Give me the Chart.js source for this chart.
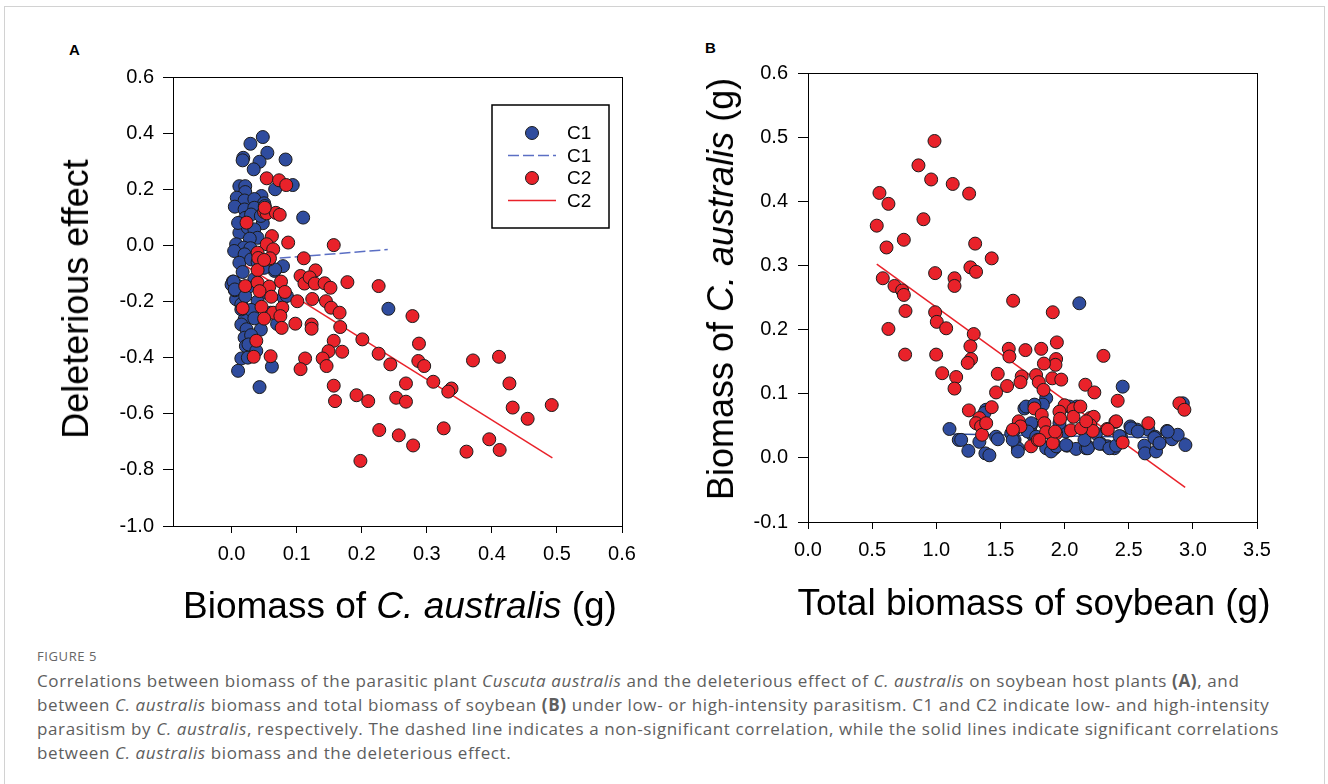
<!DOCTYPE html>
<html>
<head>
<meta charset="utf-8">
<script src="https://cdn.jsdelivr.net/npm/chart.js@4.4.1/dist/chart.umd.min.js"></script>
<style>
body{margin:0;background:#fff;width:1328px;height:784px;overflow:hidden;position:relative;font-family:"Liberation Sans",Arial,sans-serif;}
.frame{position:absolute;left:4px;top:6px;width:1319px;height:820px;border:1px solid #d2d2d2;}
canvas{position:absolute;top:0;}
#chartA{left:0;}
#chartB{left:664px;}
.lbl{position:absolute;font-weight:bold;font-size:15px;line-height:1;}
.title{position:absolute;font-size:37px;white-space:nowrap;line-height:1;color:#000;transform:translate(-50%,-50%);}
.title.rot{font-size:36px;transform:translate(-50%,-50%) rotate(-90deg);}
.fig{position:absolute;left:37px;top:648px;font-family:"Open Sans",sans-serif;font-size:13px;line-height:16px;color:#666;letter-spacing:0.6px;}
.cap{position:absolute;left:37px;top:669px;font-family:"Open Sans",sans-serif;font-size:17px;line-height:24px;color:#5e5e5e;white-space:nowrap;letter-spacing:0.62px;}
</style>
</head>
<body>
<div class="frame"></div>
<div class="lbl" style="left:69px;top:42px;">A</div>
<div class="lbl" style="left:705px;top:40px;">B</div>
<canvas id="chartA" width="664" height="600"></canvas>
<canvas id="chartB" width="664" height="600"></canvas>
<div class="title rot" style="left:76px;top:299px;">Deleterious effect</div>
<div class="title" style="left:400px;top:605px;">Biomass of <i>C. australis</i> (g)</div>
<div class="title rot" style="left:721px;top:289px;">Biomass of <i>C. australis</i> (g)</div>
<div class="title" style="left:1034px;top:602px;">Total biomass of soybean (g)</div>
<div class="fig">FIGURE 5</div>
<div class="cap">Correlations between biomass of the parasitic plant <i>Cuscuta australis</i> and the deleterious effect of <i>C. australis</i> on soybean host plants <b>(A)</b>, and<br>between <i>C. australis</i> biomass and total biomass of soybean <b>(B)</b> under low- or high-intensity parasitism. C1 and C2 indicate low- and high-intensity<br>parasitism by <i>C. australis</i>, respectively. The dashed line indicates a non-significant correlation, while the solid lines indicate significant correlations<br>between <i>C. australis</i> biomass and the deleterious effect.</div>
<script>
// ---- panel A: biomass of C. australis vs deleterious effect ----
const xTicksA = [0, 0.1, 0.2, 0.3, 0.4, 0.5, 0.6];
const yTicksA = [-1.0, -0.8, -0.6, -0.4, -0.2, 0, 0.2, 0.4, 0.6];

const c1A = [
  [0.048,0.386],[0.029,0.362],[0.018,0.312],[0.017,0.303],[0.055,0.330],[0.043,0.298],[0.083,0.306],
  [0.034,0.271],[0.094,0.215],[0.067,0.200],[0.012,0.211],[0.021,0.211],[0.021,0.190],[0.046,0.176],
  [0.008,0.170],[0.020,0.160],[0.035,0.165],[0.050,0.150],[0.005,0.138],[0.020,0.128],[0.035,0.134],
  [0.051,0.140],[0.110,0.099],[0.021,0.098],[0.048,0.079],[0.012,0.045],[0.025,0.063],[0.035,0.057],
  [0.040,0.027],[0.007,0.004],[0.028,0.024],[0.019,-0.008],[0.029,-0.010],[0.010,0.080],[0.030,0.110],
  [0.045,0.105],[0.004,-0.020],[0.020,-0.032],[0.012,-0.062],[0.017,-0.095],[0.002,-0.129],[0.010,-0.145],
  [0.012,-0.169],[0.007,-0.192],[0.015,-0.210],[0.020,-0.264],[0.015,-0.282],[0.023,-0.299],[0.020,-0.329],
  [0.022,-0.359],[0.034,-0.371],[0.066,-0.091],[0.079,-0.074],[0.080,-0.186],[0.241,-0.226],[0.015,-0.403],
  [0.010,-0.447],[0.062,-0.432],[0.043,-0.505],[0.030,-0.050],[0.035,-0.120],[0.025,-0.150],[0.040,-0.200],
  [0.030,-0.230],[0.005,-0.160],[0.000,-0.140],[0.045,-0.300],[0.030,-0.320],[0.035,-0.260],[0.050,-0.080],
  [0.055,-0.170],[0.060,-0.240],[0.070,-0.280],[0.025,-0.400],[0.040,-0.060],[0.003,-0.129],[0.005,-0.157],
  [0.021,-0.181],[0.015,-0.228],[0.026,-0.353],[0.038,-0.376],[0.085,-0.180],[0.067,-0.086]
];
const c2A = [
  [0.054,0.239],[0.073,0.232],[0.084,0.215],[0.050,0.119],[0.054,0.114],[0.068,0.116],[0.074,0.109],
  [0.051,0.134],[0.023,0.081],[0.062,0.033],[0.087,0.010],[0.157,0.001],[0.054,0.004],[0.064,-0.014],
  [0.040,-0.026],[0.041,-0.045],[0.058,-0.050],[0.111,-0.046],[0.040,-0.088],[0.129,-0.089],[0.106,-0.109],
  [0.112,-0.136],[0.120,-0.114],[0.128,-0.136],[0.143,-0.135],[0.152,-0.151],[0.178,-0.131],[0.226,-0.145],
  [0.021,-0.145],[0.040,-0.133],[0.058,-0.147],[0.076,-0.129],[0.043,-0.163],[0.061,-0.183],[0.082,-0.166],
  [0.101,-0.199],[0.124,-0.191],[0.145,-0.199],[0.153,-0.222],[0.166,-0.240],[0.046,-0.219],[0.064,-0.240],
  [0.078,-0.222],[0.075,-0.252],[0.017,-0.224],[0.050,-0.261],[0.077,-0.294],[0.098,-0.279],[0.123,-0.282],
  [0.123,-0.297],[0.167,-0.291],[0.038,-0.340],[0.157,-0.340],[0.149,-0.377],[0.170,-0.379],[0.034,-0.397],
  [0.060,-0.395],[0.113,-0.403],[0.140,-0.403],[0.106,-0.441],[0.146,-0.430],[0.157,-0.500],[0.278,-0.252],
  [0.201,-0.335],[0.288,-0.350],[0.226,-0.386],[0.244,-0.424],[0.287,-0.412],[0.296,-0.430],[0.371,-0.410],
  [0.411,-0.397],[0.268,-0.492],[0.310,-0.486],[0.338,-0.510],[0.333,-0.521],[0.427,-0.492],[0.159,-0.555],
  [0.192,-0.534],[0.210,-0.555],[0.253,-0.543],[0.268,-0.557],[0.432,-0.578],[0.455,-0.618],[0.492,-0.569],
  [0.227,-0.658],[0.257,-0.677],[0.279,-0.713],[0.326,-0.652],[0.396,-0.691],[0.412,-0.729],[0.361,-0.735],
  [0.198,-0.768],[0.059,-0.046],[0.050,-0.052]
];
// regression lines (end points)
const fitC1A = [[0.005,-0.058],[0.240,-0.015]];
const fitC2A = [[0.016,-0.065],[0.493,-0.757]];

// ---- panel B: total biomass of soybean vs biomass of C. australis ----
const xTicksB = [0, 0.5, 1.0, 1.5, 2.0, 2.5, 3.0, 3.5];
const yTicksB = [-0.1, 0, 0.1, 0.2, 0.3, 0.4, 0.5, 0.6];

const c1B = [
  [2.115,0.241],[2.453,0.111],[1.103,0.045],[1.175,0.028],[1.250,0.011],[1.383,0.007],[1.414,0.004],
  [1.336,0.025],[1.388,0.075],[1.466,0.033],[1.480,0.029],[1.584,0.038],[1.610,0.028],[1.636,0.015],
  [1.636,0.010],[1.687,0.077],[1.739,0.051],[1.751,0.036],[1.857,0.093],[1.831,0.083],[1.857,0.015],
  [1.922,0.015],[2.019,0.019],[2.090,0.014],[2.095,0.080],[2.185,0.017],[2.284,0.022],[2.336,0.018],
  [2.388,0.015],[2.440,0.033],[2.513,0.049],[2.565,0.044],[2.653,0.044],[2.622,0.019],[2.627,0.007],
  [2.705,0.033],[2.713,0.010],[2.739,0.023],[2.799,0.042],[2.838,0.029],[2.882,0.036],[2.942,0.020],
  [2.922,0.085],[2.245,0.038],[1.194,0.028],[1.376,0.070],[1.609,0.044],[1.596,0.028],[1.700,0.080],
  [1.765,0.083],[1.740,0.054],[1.713,0.041],[1.779,0.033],[1.895,0.010],[1.935,0.018],[2.012,0.020],
  [2.168,0.015],[2.038,0.080],[2.010,0.041],[1.960,0.054],[2.519,0.046],[2.571,0.041],[2.700,0.031],
  [2.740,0.023],[2.804,0.041],[2.181,0.015],[2.272,0.022],[2.350,0.015],[2.402,0.019],[2.428,0.034],
  [2.155,0.028]
];
const c2B = [
  [0.986,0.494],[0.861,0.456],[0.960,0.434],[1.128,0.427],[1.256,0.412],[0.557,0.413],[0.627,0.396],
  [0.536,0.362],[0.900,0.372],[0.612,0.328],[0.747,0.340],[1.303,0.334],[1.432,0.311],[0.991,0.288],
  [1.266,0.297],[1.310,0.290],[1.142,0.280],[1.142,0.268],[0.583,0.280],[0.674,0.268],[0.734,0.261],
  [0.747,0.254],[0.760,0.229],[0.991,0.227],[1.004,0.212],[1.077,0.202],[0.627,0.201],[1.292,0.193],
  [1.599,0.245],[1.908,0.227],[0.757,0.161],[0.999,0.161],[1.266,0.174],[1.271,0.154],[1.245,0.148],
  [1.565,0.170],[1.570,0.158],[1.695,0.168],[1.818,0.170],[1.940,0.180],[1.934,0.154],[1.929,0.145],
  [1.839,0.147],[2.303,0.159],[1.046,0.132],[1.155,0.126],[1.142,0.108],[1.479,0.131],[1.552,0.112],
  [1.466,0.102],[1.666,0.127],[1.656,0.118],[1.778,0.129],[1.799,0.118],[1.836,0.106],[1.904,0.124],
  [1.974,0.122],[2.162,0.114],[2.232,0.102],[2.414,0.089],[2.895,0.085],[2.934,0.075],[1.254,0.074],
  [1.432,0.079],[1.336,0.062],[1.310,0.054],[1.349,0.049],[1.357,0.036],[1.765,0.077],[1.822,0.067],
  [1.843,0.054],[1.643,0.057],[1.656,0.049],[1.597,0.044],[2.000,0.082],[1.960,0.072],[1.965,0.061],
  [1.935,0.038],[2.069,0.076],[2.069,0.064],[2.123,0.080],[2.050,0.043],[2.200,0.062],[2.227,0.064],
  [2.201,0.051],[2.220,0.042],[2.396,0.056],[2.331,0.045],[2.653,0.054],[2.453,0.024],[1.739,0.018],
  [1.908,0.023],[1.856,0.040],[1.926,0.041],[1.791,0.028],[1.804,0.028],[1.389,0.054],[2.402,0.057],
  [2.337,0.044],[2.129,0.046],[2.168,0.057]
];
const fitC1B = [[1.10,0.037],[2.95,0.031]];
const fitC2B = [[0.536,0.302],[2.940,-0.046]];

const BLUE = "#2f4c9e";
const RED = "#e9222a";
const EDGE = "#1b1b1b";

function pts(arr){
    return arr.map(p => ({x: p[0], y: p[1]}));
}

// ================= FRAME AROUND PLOT AREA =================
const frameBox = {
    id: "frameBox",
    afterDraw(chart){
        const a = chart.chartArea;
        const ctx = chart.ctx;
        ctx.save();
        ctx.strokeStyle = "#000";
        ctx.lineWidth = 1;
        ctx.strokeRect(Math.round(a.left) + 0.5, Math.round(a.top) + 0.5,
            Math.round(a.right - a.left), Math.round(a.bottom - a.top));
        ctx.restore();
    }
};

// ================= LEGEND WITH BORDER =================
const boxLegend = {
    id: "boxLegend",
    afterDraw(chart, args, opts){
        if (!opts.show) return;
        const ctx = chart.ctx;
        ctx.save();
        ctx.strokeStyle = "#000";
        ctx.lineWidth = 1.5;
        ctx.strokeRect(opts.x, opts.y, opts.w, opts.h);
        ctx.font = "19px 'Liberation Sans', Arial, sans-serif";
        ctx.textBaseline = "middle";
        chart.data.datasets.forEach((ds, i) => {
            const cy = opts.y + opts.first + i * opts.step;
            if (ds.showLine) {
                ctx.beginPath();
                ctx.setLineDash(ds.borderDash || []);
                ctx.strokeStyle = ds.borderColor;
                ctx.lineWidth = ds.borderWidth;
                ctx.moveTo(opts.x + 16, cy);
                ctx.lineTo(opts.x + 64, cy);
                ctx.stroke();
                ctx.setLineDash([]);
            } else {
                ctx.beginPath();
                ctx.arc(opts.x + 40, cy, ds.pointRadius, 0, Math.PI * 2);
                ctx.fillStyle = ds.backgroundColor;
                ctx.fill();
                ctx.lineWidth = 1;
                ctx.strokeStyle = EDGE;
                ctx.stroke();
            }
            ctx.fillStyle = "#000";
            ctx.fillText(ds.label, opts.x + 75, cy + 1);
        });
        ctx.restore();
    }
};

function scatterSet(label, arr, color, order){
    return {
        label: label,
        data: pts(arr),
        backgroundColor: color,
        borderColor: EDGE,
        borderWidth: 1,
        pointRadius: 6.5,
        pointHoverRadius: 6.5,
        showLine: false,
        order: order
    };
}

function fitSet(label, arr, color, dash){
    return {
        label: label,
        data: pts(arr),
        borderColor: color,
        backgroundColor: color,
        borderWidth: 1.5,
        borderDash: dash,
        pointRadius: 0,
        showLine: true,
        fill: false,
        order: 5
    };
}

function axis(min, max, ticks, fixW, fixH, pad, tl){
    return {
        type: "linear",
        min: min,
        max: max,
        afterBuildTicks: s => { s.ticks = ticks.map(v => ({value: v})); },
        afterFit: s => {
            if (fixW) s.width = fixW;
            if (fixH) s.height = fixH;
        },
        grid: {drawOnChartArea: false, drawTicks: true, tickLength: tl, color: "#000", lineWidth: 1},
        border: {display: true, color: "#000", width: 1},
        ticks: {
            color: "#000",
            padding: pad,
            font: {family: "'Liberation Sans', Arial, sans-serif", size: 20},
            callback: v => v.toFixed(1)
        }
    };
}

function makeChart(id, datasets, xs, ys, padding, legendOpts){
    return new Chart(document.getElementById(id), {
        type: "scatter",
        data: {datasets: datasets},
        options: {
            responsive: false,
            animation: false,
            devicePixelRatio: 1,
            layout: {padding: padding},
            plugins: {
                legend: {display: false},
                tooltip: {enabled: false},
                boxLegend: legendOpts
            },
            scales: {x: xs, y: ys}
        },
        plugins: [frameBox, boxLegend]
    });
}

// ================= PANEL A =================
makeChart("chartA",
    [
        scatterSet("C1", c1A, BLUE, 2),
        fitSet("C1", fitC1A, "#5b6fc4", [11, 4]),
        scatterSet("C2", c2A, RED, 1),
        fitSet("C2", fitC2A, RED, [])
    ],
    axis(-0.09, 0.6, xTicksA, null, 74, 9, 7),
    axis(-1.0, 0.6, yTicksA, 173, null, 9, 10),
    {top: 77, right: 42, bottom: 0, left: 0},
    {show: true, x: 492, y: 105, w: 117, h: 123, first: 28, step: 22.5}
);

// ================= PANEL B =================
makeChart("chartB",
    [
        scatterSet("C1", c1B, BLUE, 2),
        fitSet("C1", fitC1B, BLUE, []),
        scatterSet("C2", c2B, RED, 1),
        fitSet("C2", fitC2B, RED, [])
    ],
    axis(0, 3.5, xTicksB, null, 78, 9, 7),
    axis(-0.1, 0.6, yTicksB, 144, null, 10, 10),
    {top: 73, right: 71, bottom: 0, left: 0},
    {show: false}
);
</script>
</body>
</html>
